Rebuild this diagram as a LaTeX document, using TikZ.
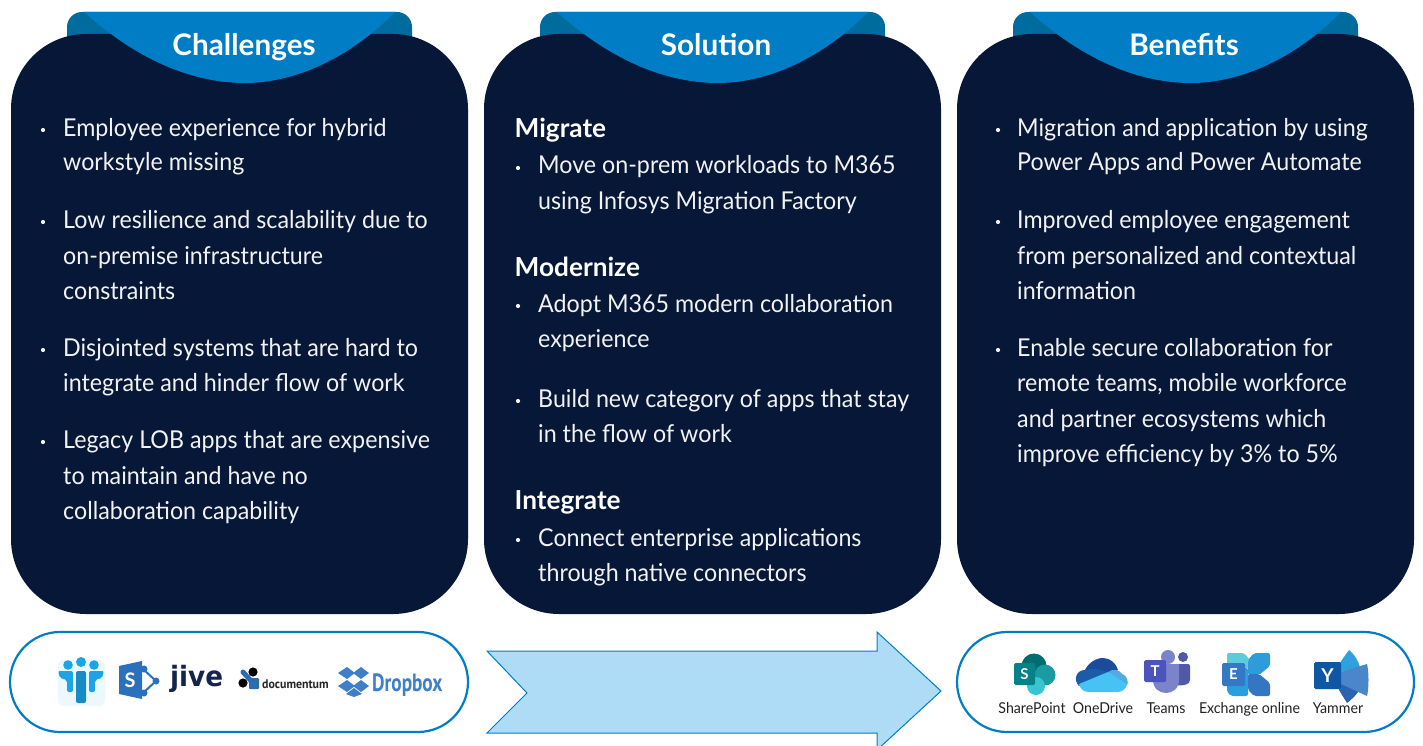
\documentclass[tikz,border=0pt]{standalone}
\usepackage{fontspec}
\usepackage{graphicx}
\setmainfont{Lato}[FakeStretch=0.945,BoldFeatures={FakeStretch=1}]
\newfontfamily\logofont{PT Sans}
\newfontfamily\jivefont{DejaVu Sans}
\definecolor{navy}{HTML}{061737}
\definecolor{tabdark}{HTML}{006C9E}
\definecolor{tabblue}{HTML}{007DC5}
\definecolor{arrowfill}{HTML}{AEDCF7}
\definecolor{txt}{HTML}{F2F2F2}
\definecolor{lab}{HTML}{222222}
\definecolor{pp}{HTML}{1CA3E8}
\definecolor{spb}{HTML}{2B70BC}
\definecolor{docb}{HTML}{2B6CB0}
\definecolor{dbx}{HTML}{3F7FC9}
\definecolor{jivec}{HTML}{15244F}
\tikzset{
  x=1pt,y=-1pt,
  card/.style={fill=navy,draw=none,rounded corners=75},
  tabback/.style={fill=tabdark,draw=none,rounded corners=15},
  tabfront/.style={fill=tabblue,draw=none},
  title/.style={text=white,font=\fontsize{29.7}{30}\selectfont\bfseries,inner sep=0pt,anchor=base},
  head/.style={text=white,font=\fontsize{26.2}{30}\selectfont\bfseries,inner sep=0pt,anchor=base west},
  tl/.style={text=txt,font=\fontsize{24.6}{30}\selectfont,inner sep=0pt,anchor=base west},
  dot/.style={circle,fill=txt,draw=none,inner sep=0pt,minimum size=4.2pt},
  pill/.style={draw=tabblue,fill=white,line width=2.2pt,rounded corners=50},
  applab/.style={text=lab,font=\fontsize{15}{16}\selectfont,inner sep=0pt,anchor=base},
  ltr/.style={text=white,font=\fontsize{15}{16}\selectfont\bfseries,inner sep=0pt},
}
\begin{document}
\begin{tikzpicture}
\useasboundingbox (0,0) rectangle (1423,746);
\fill[white] (0,0) rectangle (1423,746);
\clip (0,0) rectangle (1423,746);
% tabs and cards
\foreach \dx/\dw in {0/0,473/0,946/0}{
  \begin{scope}[shift={(\dx,0)}]
    \fill[tabback] (67,60) rectangle (412,12);
    \fill[card] (11,34) rectangle (468,614);
    \fill[tabfront] (84,12) -- (395,12) .. controls (350,58) and (295,83) .. (245,83) .. controls (190,83) and (135,58) .. (84,12) -- cycle;
  \end{scope}
}
\node[title] (t1) at (244,55.5) {Challenges};
\node[title] (t2) at (716,55.5) {Solution};
\node[title] (t3) at (1184,55.5) {Benefits};
% Challenges
\node[dot] (cd1) at (43,130) {};
\node[tl] (c1a) at (63,136.5) {Employee experience for hybrid};
\node[tl] (c1b) at (63,171) {workstyle missing};
\node[dot] (cd2) at (43,222) {};
\node[tl] (c2a) at (63,228) {Low resilience and scalability due to};
\node[tl] (c2b) at (63,264) {on-premise infrastructure};
\node[tl] (c2c) at (63,299) {constraints};
\node[dot] (cd3) at (43,350) {};
\node[tl] (c3a) at (63,356) {Disjointed systems that are hard to};
\node[tl] (c3b) at (63,391) {integrate and hinder flow of work};
\node[dot] (cd4) at (43,442) {};
\node[tl] (c4a) at (63,448) {Legacy LOB apps that are expensive};
\node[tl] (c4b) at (63,484) {to maintain and have no};
\node[tl] (c4c) at (63,519) {collaboration capability};
% Solution
\node[head] (s1) at (514.5,138) {Migrate};
\node[dot] (sd1) at (518,168) {};
\node[tl] (s1a) at (538,174) {Move on-prem workloads to M365};
\node[tl] (s1b) at (538,209) {using Infosys Migration Factory};
\node[head] (s2) at (514.5,276) {Modernize};
\node[dot] (sd2) at (518,306) {};
\node[tl] (s2a) at (538,312) {Adopt M365 modern collaboration};
\node[tl] (s2b) at (538,347) {experience};
\node[dot] (sd3) at (518,401) {};
\node[tl] (s3a) at (538,407) {Build new category of apps that stay};
\node[tl] (s3b) at (538,442) {in the flow of work};
\node[head] (s3) at (514.5,509) {Integrate};
\node[dot] (sd4) at (518,540) {};
\node[tl] (s4a) at (538,546) {Connect enterprise applications};
\node[tl] (s4b) at (538,581) {through native connectors};
% Benefits
\node[dot] (bd1) at (998,130) {};
\node[tl] (b1a) at (1017,136.5) {Migration and application by using};
\node[tl] (b1b) at (1017,171) {Power Apps and Power Automate};
\node[dot] (bd2) at (998,222) {};
\node[tl] (b2a) at (1017,228) {Improved employee engagement};
\node[tl] (b2b) at (1017,264) {from personalized and contextual};
\node[tl] (b2c) at (1017,299) {information};
\node[dot] (bd3) at (998,350) {};
\node[tl] (b3a) at (1017,356) {Enable secure collaboration for};
\node[tl] (b3b) at (1017,391) {remote teams, mobile workforce};
\node[tl] (b3c) at (1017,427) {and partner ecosystems which};
\node[tl] (b3d) at (1017,462) {improve efficiency by 3\% to 5\%};
% bottom
\draw[pill] (10,632) rectangle (468,732);
\draw[pill] (957,632) rectangle (1414,732);
\draw[draw=tabblue,fill=arrowfill,line width=1pt] (487,651) -- (877,651) -- (877,632) -- (941,691) -- (877,750) -- (877,733) -- (487,733) -- (527,693) -- cycle;
% people logo
\fill[pp!8,rounded corners=6] (58,660) rectangle (105,706);
\fill[pp] (68,665) circle (4.8) (81,662) circle (5) (94,665) circle (4.8);
\fill[pp!85!black,rounded corners=2] (76,671) rectangle (86,703);
\fill[pp,rounded corners=2] (58,671) -- (73,671) -- (73,692) -- (67,692) -- (67,680) -- (60,678) -- cycle;
\fill[pp,rounded corners=2] (104,671) -- (89,671) -- (89,692) -- (95,692) -- (95,680) -- (102,678) -- cycle;
% old SharePoint logo
\draw[spb,line width=2pt] (143,669) -- (156,681) -- (143,693);
\fill[spb] (144,669) circle (3.5) (156,681) circle (3.5) (144,693) circle (3.5);
\fill[spb] (119,666) -- (142,661) -- (142,699) -- (119,694) -- cycle;
\node[ltr,font=\fontsize{20}{20}\selectfont\bfseries] (oldsp) at (130,680) {S};
% jive
\node[inner sep=0pt,anchor=base west,text=jivec] (jive) at (170,686) {\jivefont\bfseries\fontsize{25}{25}\selectfont\scalebox{1.05}[1.12]{jive}};
% documentum
\draw[docb,line width=5pt,line cap=round] (243,672) -- (253,683);
\fill[docb,rounded corners=1] (249,678) rectangle (259,689);
\fill[black] (253,672) circle (4.6) (243,683) circle (4.6);
\node[inner sep=0pt,anchor=base west,text=black!85] (docum) at (262,688) {\logofont\bfseries\fontsize{12.5}{13}\selectfont\scalebox{0.95}[1]{documentum}};
% Dropbox
\fill[dbx] (347,667) -- (355,673) -- (347,679) -- (338,673) -- cycle;
\fill[dbx] (361,667) -- (369,673) -- (361,679) -- (353,673) -- cycle;
\fill[dbx] (347,680) -- (355,686) -- (347,692) -- (338,686) -- cycle;
\fill[dbx] (361,680) -- (369,686) -- (361,692) -- (353,686) -- cycle;
\fill[dbx] (354,688) -- (362,694) -- (354,697) -- (346,694) -- cycle;
\node[inner sep=0pt,anchor=base west,text=dbx] (dropbox) at (372,691) {\logofont\bfseries\fontsize{25}{26}\selectfont\scalebox{0.77}[1]{Dropbox}};
% SharePoint icon
\definecolor{c1}{HTML}{036C70}\definecolor{c2}{HTML}{1A9BA1}\definecolor{c3}{HTML}{37C6D0}\definecolor{c4}{HTML}{038387}
\fill[c1] (1034,666) circle (12.5);
\fill[c2] (1045,675) circle (10.5);
\fill[c3] (1036,686) circle (9);
\fill[c4,rounded corners=1.5] (1014,663) rectangle (1035,685);
\node[ltr] (spS) at (1024.5,674) {S};
% OneDrive icon
\definecolor{o1}{HTML}{1A4B9C}\definecolor{o2}{HTML}{1C5BA8}\definecolor{o3}{HTML}{50ABE2}\definecolor{o4}{HTML}{45C3F5}
\fill[o1] (1084,672) .. controls (1088,662) and (1097,658) .. (1103,658) .. controls (1110,658) and (1116,663) .. (1118,670) -- (1108,674) -- (1090,682) -- cycle;
\fill[o3] (1108,672) .. controls (1113,668) and (1120,670) .. (1122,674) .. controls (1127,675) and (1129,682) .. (1127,686) -- cycle;
\fill[o2] (1079,686) .. controls (1073,680) and (1076,670) .. (1085,670) .. controls (1092,668) and (1100,669) .. (1108,672) -- cycle;
\fill[o4] (1079,684) -- (1108,672) -- (1127,684) .. controls (1126,689) and (1122,692) .. (1117,692) -- (1088,692) .. controls (1083,692) and (1080,688) .. (1079,684) -- cycle;
% Teams icon
\definecolor{t1}{HTML}{7B83C9}\definecolor{t2}{HTML}{5059A8}\definecolor{t3}{HTML}{4B53BC}
\fill[t1] (1168,657) circle (7);
\fill[t2] (1183,657) circle (5);
\fill[t2,rounded corners=2] (1176,664) -- (1190,664) -- (1190,678) .. controls (1190,684) and (1184,686) .. (1176,685) -- cycle;
\fill[t1] (1153,664) -- (1179,664) -- (1179,680) .. controls (1179,689) and (1172,693) .. (1166,693) .. controls (1160,693) and (1153,689) .. (1153,680) -- cycle;
\fill[t3,rounded corners=1.5] (1144,660) rectangle (1166,682);
\node[ltr] (tmT) at (1155,671) {T};
% Exchange icon
\definecolor{e1}{HTML}{2F9BDB}\definecolor{e2}{HTML}{3576C4}\definecolor{e3}{HTML}{28A0E0}\definecolor{e4}{HTML}{5DCBDC}\definecolor{e5}{HTML}{3578C6}
\fill[e4,rounded corners=2] (1227,653) -- (1244,653) -- (1250,660) -- (1250,668) -- (1227,668) -- cycle;
\fill[e3,rounded corners=2] (1227,668) -- (1248,668) -- (1248,696) -- (1231,696) -- (1227,692) -- cycle;
\fill[e1,rounded corners=2] (1254,653) -- (1270,653) -- (1270,666) -- (1259,675) -- (1248,675) -- (1248,660) -- cycle;
\fill[e2,rounded corners=2] (1248,674) -- (1259,674) -- (1270,683) -- (1270,696) -- (1254,696) -- (1248,690) -- cycle;
\fill[e5,rounded corners=1.5] (1222,663) rectangle (1245,686);
\node[ltr] (exE) at (1233.5,674.5) {E};
% Yammer icon
\definecolor{y1}{HTML}{30A0DF}\definecolor{y2}{HTML}{4A86C8}\definecolor{y3}{HTML}{2C62B0}\definecolor{y4}{HTML}{0E57A4}
\fill[y1] (1339,664) -- (1349,650) .. controls (1354,654) and (1358,660) .. (1360,667) -- (1341,672) -- cycle;
\fill[y3] (1339,690) -- (1341,682) -- (1360,688) .. controls (1358,694) and (1352,699) .. (1347,703) -- cycle;
\fill[y2] (1341,672) -- (1367,664) .. controls (1369,672) and (1369,688) .. (1367,696) -- (1341,684) -- cycle;
\fill[y4,rounded corners=1.5] (1314,662) rectangle (1341,689);
\node[ltr,font=\fontsize{19}{20}\selectfont\bfseries] (yaY) at (1327.5,675.5) {Y};
% labels
\node[applab] (lsp) at (1032,713) {SharePoint};
\node[applab] (lod) at (1103,713) {OneDrive};
\node[applab] (ltm) at (1166,713) {Teams};
\node[applab] (lex) at (1249.5,713) {Exchange online};
\node[applab] (lya) at (1338,713) {Yammer};
\end{tikzpicture}
\end{document}
